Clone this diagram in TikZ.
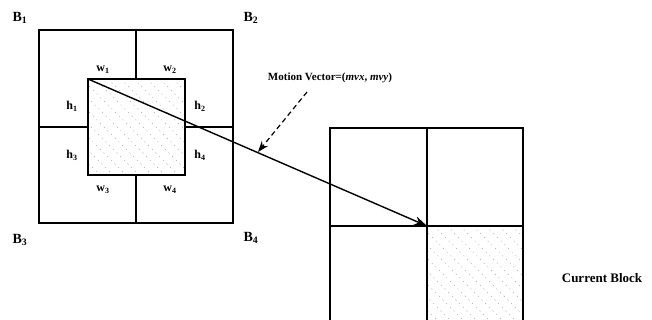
\documentclass[tikz,border=0pt]{standalone}
\usepackage{fontspec}
\setmainfont{Liberation Serif}
\usetikzlibrary{arrows.meta}
\tikzset{
  blk/.style={line width=1.5pt},
  lbl/.style={font=\bfseries\fontsize{12}{13}\selectfont, inner sep=0pt},
  corner/.style={font=\bfseries\fontsize{14}{15}\selectfont, inner sep=0pt},
  hatch/.style={gray!65, line width=0.4pt, dash pattern=on 1.2pt off 4pt},
  mv/.style={line width=1.4pt, -{Stealth[length=13pt,width=9pt]}},
  mvnote/.style={line width=1.2pt, dash pattern=on 5pt off 3.5pt, -{Stealth[length=11pt,width=8pt]}}
}
\begin{document}
\begin{tikzpicture}[x=1pt,y=-1pt]
\useasboundingbox (0,0) rectangle (652,320);
% hatching of inner (reference) block
\begin{scope}
\clip (88,79) rectangle (185,175);
\foreach \i in {-110,-97,...,100} {
  \draw[hatch] (88+\i,79) -- ++(120,120);
}
\end{scope}
% hatching of current block
\begin{scope}
\clip (427,226) rectangle (523,321);
\foreach \i in {-110,-97,...,100} {
  \draw[hatch] (427+\i,226) -- ++(120,120);
}
\end{scope}
% left grid of four blocks
\draw[blk] (39,30) rectangle (233,223);
\draw[blk] (136,30) -- (136,79);
\draw[blk] (136,175) -- (136,223);
\draw[blk] (39,127) -- (88,127);
\draw[blk] (185,127) -- (233,127);
% inner block
\draw[blk] (88,79) rectangle (185,175);
\coordinate (ref) at (88,79);
% right grid
\draw[blk] (330,322) -- (330,128) -- (523,128) -- (523,322);
\draw[blk] (427,128) -- (427,322);
\draw[blk] (330,226) -- (523,226);
\coordinate (cur) at (427,226);
% labels
\node[corner] (b1) at (20,18) {B\textsubscript{1}};
\node[corner] (b2) at (251,18) {B\textsubscript{2}};
\node[corner] (b3) at (20,240) {B\textsubscript{3}};
\node[corner] (b4) at (251,238) {B\textsubscript{4}};
\node[lbl] (w1) at (103,70) {w\textsubscript{1}};
\node[lbl] (w2) at (170,70) {w\textsubscript{2}};
\node[lbl] (h1) at (72,106) {h\textsubscript{1}};
\node[lbl] (h2) at (200,106) {h\textsubscript{2}};
\node[lbl] (h3) at (72,155) {h\textsubscript{3}};
\node[lbl] (h4) at (200,155) {h\textsubscript{4}};
\node[lbl] (w3) at (103,190) {w\textsubscript{3}};
\node[lbl] (w4) at (170,190) {w\textsubscript{4}};
% motion vector
\draw[mv] (ref) -- (cur);
\node[font=\bfseries\fontsize{11}{12}\selectfont, inner sep=1pt] (mvt) at (330,78) {Motion Vector=(\textit{mvx}, \textit{mvy})};
\coordinate (mvs) at (307,92);
\coordinate (mve) at (258,152);
\draw[mvnote] (mvs) -- (mve);
\node[font=\bfseries\fontsize{13}{14}\selectfont, inner sep=0pt] (cb) at (602,278) {Current Block};
\end{tikzpicture}
\end{document}
